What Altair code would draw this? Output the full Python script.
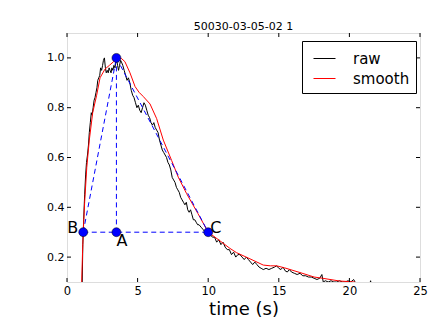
import altair as alt
import pandas as pd

# ---- data ----
raw_x = [1.05, 1.12, 1.18, 1.25, 1.32, 1.38, 1.45, 1.52, 1.58, 1.65, 1.72, 1.78, 1.85, 1.92, 1.98,
         2.05, 2.12, 2.18, 2.25, 2.32, 2.38, 2.45, 2.52, 2.58, 2.65, 2.72, 2.78, 2.85, 2.92, 2.98,
         3.05, 3.12, 3.18, 3.25, 3.32, 3.40, 3.50, 3.58, 3.65, 3.72, 3.80, 3.88, 3.95, 4.05, 4.15,
         4.25, 4.35, 4.45, 4.55, 4.65, 4.75, 4.85, 4.95, 5.05, 5.15, 5.25, 5.35, 5.45, 5.55, 5.65,
         5.75, 5.85, 5.95, 6.05, 6.15, 6.25, 6.35, 6.45, 6.55, 6.65, 6.75, 6.85, 6.95, 7.05, 7.15,
         7.25, 7.35, 7.45, 7.55, 7.65, 7.75, 7.85, 7.95, 8.05, 8.15, 8.25, 8.35, 8.45, 8.55, 8.65,
         8.75, 8.85, 8.95, 9.05, 9.15, 9.25, 9.35, 9.5, 9.65, 9.8, 10.0, 10.15, 10.3, 10.45, 10.6,
         10.75, 10.9, 11.05, 11.2, 11.35, 11.5, 11.65, 11.8, 11.95, 12.1, 12.25, 12.4, 12.55, 12.7,
         12.85, 13.0, 13.15, 13.3, 13.45, 13.6, 13.75, 13.9, 14.1, 14.3, 14.5, 14.7, 14.85, 15.0,
         15.15, 15.3, 15.45, 15.6, 15.75, 15.9, 16.1, 16.3, 16.5, 16.7, 16.9, 17.1, 17.3, 17.5,
         17.7, 17.9, 18.05, 18.15, 18.3, 18.5, 18.7, 18.9, 19.1, 19.3, 19.5, 19.7, 19.9, 20.1,
         20.3, 20.5, 20.7, 21.4, 21.5, 21.6]
raw_y = [0.00, 0.25, 0.35, 0.45, 0.53, 0.58, 0.61, 0.65, 0.70, 0.74, 0.78, 0.77, 0.80, 0.83, 0.84,
         0.86, 0.88, 0.91, 0.92, 0.93, 0.96, 0.95, 0.97, 0.99, 1.00, 0.96, 0.94, 0.95, 0.94, 0.96,
         0.95, 0.94, 0.96, 0.95, 0.97, 0.96, 1.00, 0.97, 0.95, 0.97, 0.99, 0.98, 0.97, 0.95, 0.93,
         0.91, 0.92, 0.90, 0.87, 0.85, 0.84, 0.82, 0.80, 0.81, 0.79, 0.78, 0.80, 0.82, 0.81, 0.79,
         0.77, 0.76, 0.74, 0.73, 0.74, 0.72, 0.71, 0.70, 0.67, 0.65, 0.63, 0.62, 0.61, 0.60, 0.58,
         0.57, 0.55, 0.52, 0.51, 0.50, 0.48, 0.47, 0.46, 0.44, 0.43, 0.42, 0.41, 0.42, 0.39, 0.38,
         0.39, 0.37, 0.35, 0.35, 0.34, 0.33, 0.33, 0.32, 0.31, 0.30, 0.30, 0.29, 0.28, 0.28, 0.26,
         0.27, 0.25, 0.26, 0.24, 0.23, 0.23, 0.21, 0.22, 0.20, 0.21, 0.21, 0.20, 0.19, 0.20,
         0.19, 0.18, 0.17, 0.18, 0.17, 0.16, 0.155, 0.15, 0.155, 0.15, 0.155, 0.16, 0.165, 0.155,
         0.15, 0.16, 0.145, 0.14, 0.15, 0.14, 0.135, 0.13, 0.135, 0.125, 0.125, 0.12, 0.12, 0.115,
         0.11, 0.115, 0.13, 0.10, 0.105, 0.10, 0.105, 0.10, 0.10, 0.105, 0.10, 0.10, 0.105, 0.10,
         0.11, 0.09, 0.08, 0.08, 0.105, 0.08]

smooth_x = [1.0, 1.04, 1.1, 1.15, 1.25, 1.4, 1.58, 1.82, 2.1, 2.34, 2.69, 3.0, 3.3, 3.6, 3.85,
            4.1, 4.46, 4.82, 5.1, 5.4, 5.88, 6.35, 6.82, 7.41, 7.88, 8.47, 9.28, 10.0, 10.84,
            11.54, 12.0, 12.96, 13.9, 14.4, 14.85, 15.4, 16.5, 17.5, 18.1, 19.3, 20.4]
smooth_y = [0.0, 0.10, 0.22, 0.30, 0.42, 0.56, 0.67, 0.78, 0.85, 0.92, 0.955, 0.97, 0.985, 0.998,
            0.998, 0.985, 0.94, 0.885, 0.862, 0.845, 0.815, 0.756, 0.67, 0.588, 0.521, 0.455, 0.374,
            0.30, 0.265, 0.235, 0.218, 0.193, 0.168, 0.165, 0.165, 0.157, 0.138, 0.12, 0.115,
            0.104, 0.10]

pt_names = ["B", "A", "P", "C"]
pt_x = [1.15, 3.5, 3.5, 10.0]
pt_y = [0.30, 0.30, 1.00, 0.30]

seg_from = ["B", "P", "B", "P"]
seg_to = ["P", "A", "C", "C"]

x_ticks = [0, 5, 10, 15, 20, 25]
y_ticks = [0.2, 0.4, 0.6, 0.8, 1.0]

title_text = "50030-03-05-02 1"
x_title = "time (s)"
series_names = ["raw", "smooth"]
series_colors = ["black", "red"]

# ---- build tables ----
W, H = 353, 249
FONT = "DejaVu Sans"

lines = pd.concat([
    pd.DataFrame({"x": raw_x, "y": raw_y, "series": "raw", "order": range(len(raw_x))}),
    pd.DataFrame({"x": smooth_x, "y": smooth_y, "series": "smooth", "order": range(len(smooth_x))}),
])
pts = pd.DataFrame({"name": pt_names, "x": pt_x, "y": pt_y})
lookup = dict(zip(pt_names, zip(pt_x, pt_y)))
segs = pd.DataFrame({
    "x": [lookup[a][0] for a in seg_from], "y": [lookup[a][1] for a in seg_from],
    "x2": [lookup[b][0] for b in seg_to], "y2": [lookup[b][1] for b in seg_to],
})

xs = alt.Scale(domain=[0, 25], nice=False, zero=False)
ys = alt.Scale(domain=[0.1, 1.1], nice=False, zero=False)

xaxis = alt.Axis(values=x_ticks, ticks=False, domain=False, grid=False, labelFont=FONT,
                 labelFontSize=11.5, labelColor="black", labelPadding=3, title=x_title,
                 titleFont=FONT, titleFontSize=18, titleFontWeight="normal", titleColor="black",
                 titlePadding=4, labelFlush=False)
yaxis = alt.Axis(values=y_ticks, ticks=False, domain=False, grid=False, labelFont=FONT,
                 labelFontSize=11, labelColor="black", labelPadding=3, format=".1f", title=None)

line_layer = alt.Chart(lines).mark_line(strokeWidth=1, clip=True).encode(
    x=alt.X("x:Q", scale=xs, axis=xaxis),
    y=alt.Y("y:Q", scale=ys, axis=yaxis),
    order="order:Q",
    color=alt.Color("series:N", scale=alt.Scale(domain=series_names, range=series_colors),
                    legend=alt.Legend(orient="none", legendX=235, legendY=8, title=None,
                                      strokeColor="black", fillColor="white", padding=6,
                                      cornerRadius=0, symbolType="stroke", symbolSize=484,
                                      symbolStrokeWidth=1, symbolOffset=5, labelFont=FONT,
                                      labelFontSize=15, labelColor="black", labelOffset=17,
                                      rowPadding=0)),
)

seg_layer = alt.Chart(segs).mark_rule(color="blue", strokeWidth=1, strokeDash=[5, 3.5]).encode(
    x=alt.X("x:Q", scale=xs), y=alt.Y("y:Q", scale=ys), x2="x2:Q", y2="y2:Q")

pt_layer = alt.Chart(pts).mark_circle(size=80, color="blue", opacity=1, stroke="black",
                                      strokeWidth=0.5).encode(
    x=alt.X("x:Q", scale=xs), y=alt.Y("y:Q", scale=ys))

lbl_B = alt.Chart(pts[pts.name == "B"]).mark_text(font=FONT, fontSize=16, align="right",
                                                   baseline="alphabetic", dx=-5, dy=1).encode(
    x=alt.X("x:Q", scale=xs), y=alt.Y("y:Q", scale=ys), text="name:N")
lbl_A = alt.Chart(pts[pts.name == "A"]).mark_text(font=FONT, fontSize=16, align="left",
                                                   baseline="top", dx=0, dy=1).encode(
    x=alt.X("x:Q", scale=xs), y=alt.Y("y:Q", scale=ys), text="name:N")
lbl_C = alt.Chart(pts[pts.name == "C"]).mark_text(font=FONT, fontSize=16, align="left",
                                                   baseline="alphabetic", dx=2, dy=1).encode(
    x=alt.X("x:Q", scale=xs), y=alt.Y("y:Q", scale=ys), text="name:N")

xt = pd.DataFrame({"v": x_ticks})
yt = pd.DataFrame({"v": y_ticks})
tick_xb = alt.Chart(xt).mark_rule(color="black", strokeWidth=1).encode(
    x=alt.X("v:Q", scale=xs), y=alt.value(H), y2=alt.value(H - 4))
tick_xt = alt.Chart(xt).mark_rule(color="black", strokeWidth=1).encode(
    x=alt.X("v:Q", scale=xs), y=alt.value(0), y2=alt.value(4))
tick_yl = alt.Chart(yt).mark_rule(color="black", strokeWidth=1).encode(
    y=alt.Y("v:Q", scale=ys), x=alt.value(0), x2=alt.value(4))
tick_yr = alt.Chart(yt).mark_rule(color="black", strokeWidth=1).encode(
    y=alt.Y("v:Q", scale=ys), x=alt.value(W), x2=alt.value(W - 4))

chart = alt.layer(
    line_layer, seg_layer, pt_layer, lbl_B, lbl_A, lbl_C, tick_xb, tick_xt, tick_yl, tick_yr
).properties(
    width=W, height=H,
    title=alt.TitleParams(title_text, font=FONT, fontSize=11, fontWeight="normal",
                          color="black", anchor="middle", offset=3, dy=2),
    autosize=alt.AutoSizeParams(type="none"),
    padding={"left": 59, "top": 25, "right": 15, "bottom": 42},
).configure_view(stroke="black", strokeWidth=1).configure(background="white")

chart.save("out.html", embed_options={"renderer": "svg", "actions": False})
